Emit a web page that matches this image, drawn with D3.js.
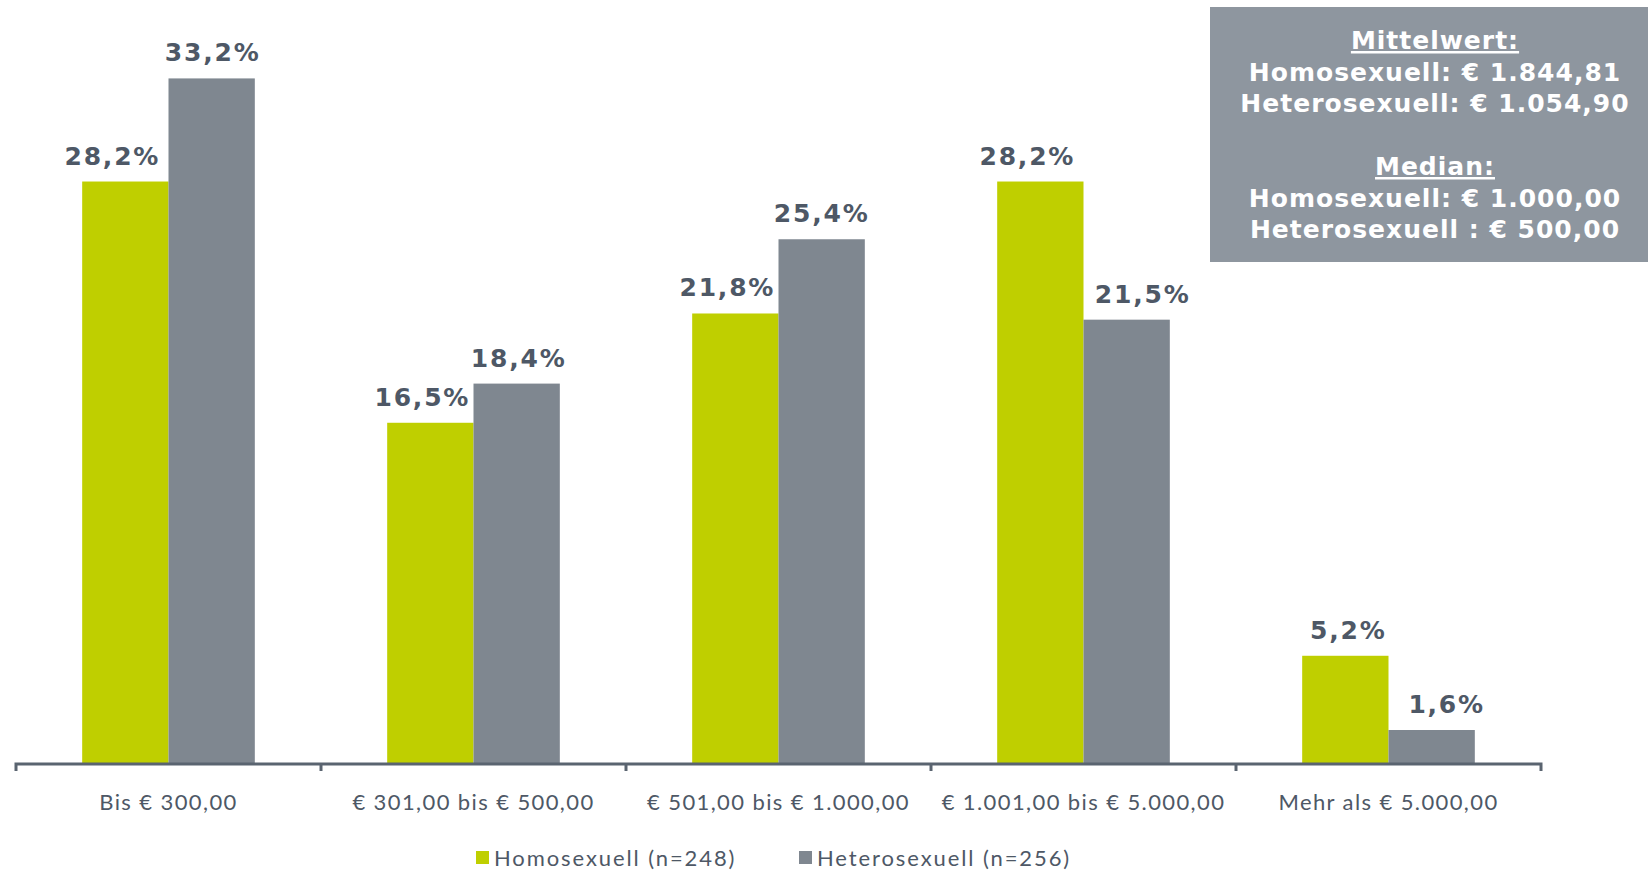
<!DOCTYPE html>
<html>
<head>
<meta charset="utf-8">
<script src="https://cdn.jsdelivr.net/npm/d3@7"></script>
<style>
  body { margin: 0; background: #fff; }
  svg { display: block; }
</style>
</head>
<body>
<div id="chart"></div>
<script>
const categories = ['Bis € 300,00', '€ 301,00 bis € 500,00', '€ 501,00 bis € 1.000,00', '€ 1.001,00 bis € 5.000,00', 'Mehr als € 5.000,00'];
const seriesNames = ['Homosexuell (n=248)', 'Heterosexuell (n=256)'];
const homoValues = [28.2, 16.5, 21.8, 28.2, 5.2];
const heteroValues = [33.2, 18.4, 25.4, 21.5, 1.6];
const seriesColors = ['#bfcf00', '#7f8790'];
const boxLines = [
  { text: 'Mittelwert:', u: true },
  { text: 'Homosexuell: € 1.844,81' },
  { text: 'Heterosexuell: € 1.054,90' },
  { text: '' },
  { text: 'Median:', u: true },
  { text: 'Homosexuell: € 1.000,00' },
  { text: 'Heterosexuell : € 500,00' }
];

const W = 1648, H = 871;
const left = 16, right = 1541, base = 763;
const boldFont = "'DejaVu Sans', Verdana, sans-serif";
const lightFont = "Lato, sans-serif";
// small horizontal nudges of the value labels, as in the original layout
const labelNudge = [[-14, 0], [-9, 1], [-9, -1], [-14, 15], [2, 14]];

const svg = d3.select('#chart').append('svg').attr('width', W).attr('height', H);

const x0 = d3.scaleBand().domain(categories).range([left, right]).padding(0);
const bw = x0.bandwidth();
const x1 = d3.scaleBand().domain([0, 1]).range([bw * 0.217, bw * 0.783]).padding(0);
const y = d3.scaleLinear().domain([0, 35]).range([base, base - 35 * 20.62]);

const rows = categories.map((c, i) => ({ cat: c, i, vals: [homoValues[i], heteroValues[i]] }));

// bars
const groups = svg.append('g').selectAll('g').data(rows).enter().append('g')
  .attr('transform', d => `translate(${x0(d.cat)},0)`);

groups.selectAll('rect').data(d => d.vals.map((v, k) => ({ v, k }))).enter().append('rect')
  .attr('x', d => x1(d.k))
  .attr('width', x1.bandwidth())
  .attr('y', d => y(d.v))
  .attr('height', d => base - y(d.v))
  .attr('fill', d => seriesColors[d.k]);

groups.selectAll('text').data(d => d.vals.map((v, k) => ({ v, k, i: d.i }))).enter().append('text')
  .attr('x', d => x1(d.k) + x1.bandwidth() / 2 + 1 + labelNudge[d.i][d.k])
  .attr('y', d => y(d.v) - 17)
  .attr('text-anchor', 'middle')
  .style('font-family', boldFont)
  .style('font-weight', 'bold')
  .style('font-size', '25px')
  .style('letter-spacing', '1.8px')
  .style('fill', '#4e5866')
  .text(d => d.v.toFixed(1).replace('.', ',') + '%');

// axis
const axis = d3.axisBottom(x0).tickSize(0).tickPadding(30);
const gx = svg.append('g').attr('transform', `translate(0,${base + 1})`).call(axis);
gx.select('.domain').attr('stroke', '#5a6470').attr('stroke-width', 3)
  .attr('d', `M${left},7V0H${right}V7`);
gx.selectAll('.tick text')
  .style('font-family', lightFont)
  .style('font-size', '22px')
  .style('letter-spacing', '1.4px')
  .style('fill', '#4e5866');
svg.append('g').selectAll('line').data(categories.slice(1)).enter().append('line')
  .attr('x1', d => x0(d)).attr('x2', d => x0(d))
  .attr('y1', base + 1).attr('y2', base + 8)
  .attr('stroke', '#5a6470').attr('stroke-width', 3);

// legend
const legendX = [476, 799];
const lg = svg.append('g').selectAll('g').data(seriesNames).enter().append('g')
  .attr('transform', (d, i) => `translate(${legendX[i]},851)`);
lg.append('rect').attr('width', 13).attr('height', 13).attr('fill', (d, i) => seriesColors[i]);
lg.append('text').attr('x', 18).attr('y', 15)
  .style('font-family', lightFont)
  .style('font-size', '22px')
  .style('letter-spacing', '1.9px')
  .style('fill', '#4e5866')
  .text(d => d);

// info box
svg.append('rect').attr('x', 1210).attr('y', 7).attr('width', 438).attr('height', 255).attr('fill', '#8e969f');
svg.append('g').selectAll('text').data(boxLines).enter().append('text')
  .attr('x', 1435)
  .attr('y', (d, i) => 49 + i * 31.5)
  .attr('text-anchor', 'middle')
  .style('font-family', boldFont)
  .style('font-weight', 'bold')
  .style('font-size', '25px')
  .style('letter-spacing', '1px')
  .style('fill', '#fff')
  .style('text-decoration', d => d.u ? 'underline' : 'none')
  .text(d => d.text);
</script>
</body>
</html>
